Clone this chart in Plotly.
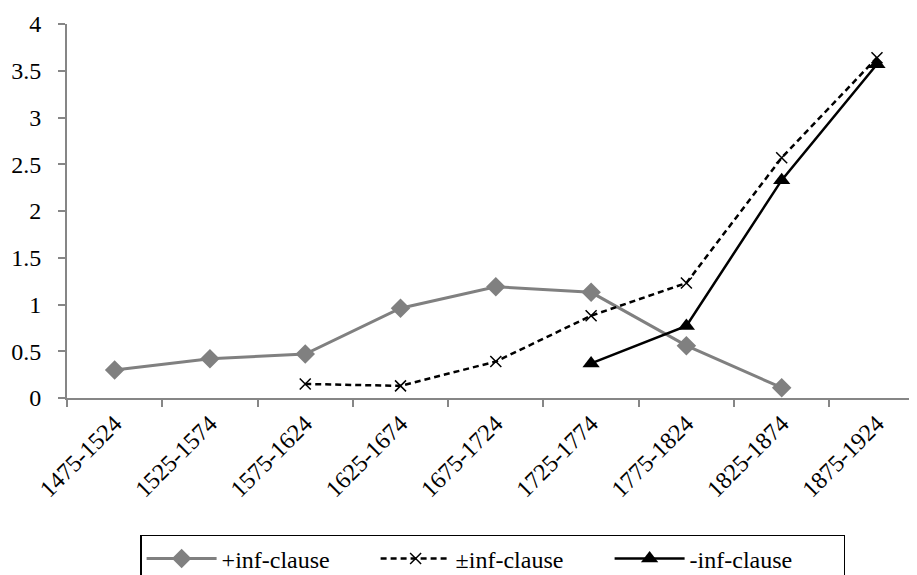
import plotly.graph_objects as go

periods = ["1475-1524", "1525-1574", "1575-1624", "1625-1674", "1675-1724",
           "1725-1774", "1775-1824", "1825-1874", "1875-1924"]
plus_inf = [0.30, 0.42, 0.47, 0.96, 1.19, 1.13, 0.56, 0.11, None]
pm_inf = [None, None, 0.15, 0.13, 0.39, 0.88, 1.23, 2.57, 3.64]
minus_inf = [None, None, None, None, None, 0.37, 0.77, 2.33, 3.57]
y_ticks = [0, 0.5, 1, 1.5, 2, 2.5, 3, 3.5, 4]
y_tick_text = ["0", "0.5", "1", "1.5", "2", "2.5", "3", "3.5", "4"]

FONT = "Liberation Serif, Times New Roman, serif"

fig = go.Figure()
fig.add_trace(go.Scatter(
    x=periods, y=plus_inf, name="+inf-clause", mode="lines+markers",
    line=dict(color="#808080", width=3),
    marker=dict(symbol="diamond", size=15, color="#808080"),
))
fig.add_trace(go.Scatter(
    x=periods, y=pm_inf, name="±inf-clause", mode="lines+markers",
    line=dict(color="black", width=2.5, dash="6px,4px"),
    marker=dict(symbol="x-thin", size=11, color="black",
                line=dict(color="black", width=1.5)),
))
fig.add_trace(go.Scatter(
    x=periods, y=minus_inf, name="-inf-clause", mode="lines+markers",
    line=dict(color="black", width=2.5),
    marker=dict(symbol="triangle-up", size=15, color="black"),
))

# page body has an 8px margin; figure sized so it fits the 917x575 window
fig.update_layout(
    width=909, height=567,
    margin=dict(l=59, r=0, t=16, b=177, autoexpand=False),
    paper_bgcolor="white", plot_bgcolor="white",
    font=dict(family=FONT, size=24, color="black"),
    showlegend=True,
    legend=dict(
        orientation="h", x=0.086, xanchor="left", y=-0.366, yanchor="top",
        bordercolor="black", borderwidth=1.5,
        font=dict(family=FONT, size=24, color="black"),
        itemwidth=70,
        entrywidth=149, entrywidthmode="pixels",
        traceorder="normal",
    ),
    xaxis=dict(
        type="category", range=[-0.5, 8.42],
        showline=True, linecolor="#868686", linewidth=2,
        ticks="outside", ticklen=7, tickcolor="#868686", tickwidth=2,
        tickson="boundaries", tickangle=-45, showgrid=False, zeroline=False,
        tickfont=dict(family=FONT, size=24, color="black"),
    ),
    yaxis=dict(
        range=[0, 4], tickvals=y_ticks, ticktext=y_tick_text,
        showline=True, linecolor="#868686", linewidth=2,
        ticks="outside", ticklen=7, tickcolor="#868686", tickwidth=2,
        showgrid=False, zeroline=False, ticklabelstandoff=12,
        tickfont=dict(family=FONT, size=24, color="black"),
    ),
)

fig.write_html("out.html")
